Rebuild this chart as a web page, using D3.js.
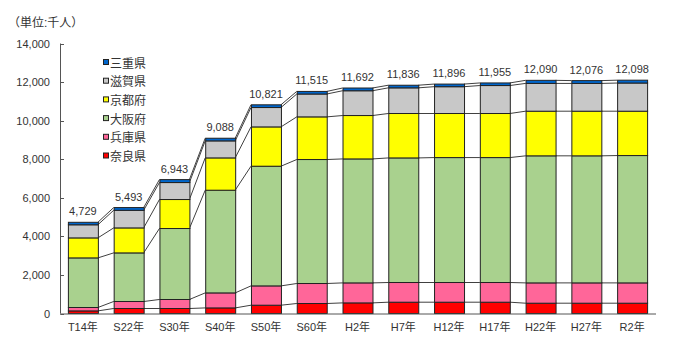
<!DOCTYPE html>
<html>
<head>
<meta charset="utf-8">
<script src="https://cdn.jsdelivr.net/npm/d3@7/dist/d3.min.js"></script>
<style>
html,body{margin:0;padding:0;background:#fff;}
svg{display:block;font-family:"Liberation Sans","Noto Sans CJK JP",sans-serif;}
</style>
</head>
<body>
<svg id="chart" width="680" height="343"></svg>
<script>
const categories = ["T14年","S22年","S30年","S40年","S50年","S60年","H2年","H7年","H12年","H17年","H22年","H27年","R2年"];
const nara  = [135, 259, 259, 290, 430, 518, 550, 586, 586, 586, 534, 534, 534];
const hyogo = [176, 363, 467, 778, 1001, 1037, 1037, 1021, 1021, 1021, 1053, 1053, 1053];
const osaka = [2572, 2520, 3681, 5325, 6206, 6429, 6428, 6460, 6478, 6478, 6588, 6588, 6603];
const kyoto = [1037, 1296, 1503, 1675, 2038, 2211, 2250, 2303, 2285, 2285, 2315, 2315, 2300];
const shiga = [680, 912, 880, 882, 1005, 1185, 1285, 1330, 1390, 1450, 1440, 1440, 1460];
const mie   = [129, 143, 153, 138, 141, 135, 142, 136, 136, 135, 160, 146, 148];
const totals = ["4,729","5,493","6,943","9,088","10,821","11,515","11,692","11,836","11,896","11,955","12,090","12,076","12,098"];
const yTicks = [0, 2000, 4000, 6000, 8000, 10000, 12000, 14000];
const seriesNames = ["奈良県","兵庫県","大阪府","京都府","滋賀県","三重県"];
const seriesData = [nara, hyogo, osaka, kyoto, shiga, mie];
const colors = ["#FF0000","#FF6699","#A9D18E","#FFFF00","#C8C8C8","#0066CC"];

const svg = d3.select("#chart");
const x = d3.scaleBand().domain(categories).range([60, 655]).paddingInner(0.345).paddingOuter(0.1725);
const y = d3.scaleLinear().domain([0, 14000]).range([313.5, 43.5]);

const rows = categories.map((c, i) => {
  const r = {cat: c};
  seriesNames.forEach((s, k) => r[s] = seriesData[k][i]);
  return r;
});
const stacked = d3.stack().keys(seriesNames)(rows);

// connector lines (series lines)
const gLines = svg.append("g");
stacked.forEach(layer => {
  for (let i = 0; i < categories.length - 1; i++) {
    gLines.append("line")
      .attr("x1", x(categories[i]) + x.bandwidth())
      .attr("x2", x(categories[i + 1]))
      .attr("y1", y(layer[i][1]))
      .attr("y2", y(layer[i + 1][1]))
      .attr("stroke", "#404040").attr("stroke-width", 1);
  }
});

// bars
stacked.forEach((layer, k) => {
  svg.append("g").selectAll("rect").data(layer).join("rect")
    .attr("x", (d, i) => x(categories[i]) + 0.5)
    .attr("width", x.bandwidth())
    .attr("y", d => y(d[1]))
    .attr("height", d => y(d[0]) - y(d[1]))
    .attr("fill", colors[k])
    .attr("stroke", "#222").attr("stroke-width", 1);
});

// axes
const axisColor = "#555";
svg.append("line").attr("x1", 60.5).attr("x2", 60.5).attr("y1", y(14000)).attr("y2", y(0)).attr("stroke", axisColor);
svg.append("line").attr("x1", 60).attr("x2", 656).attr("y1", y(0) + 0.5).attr("y2", y(0) + 0.5).attr("stroke", axisColor);
const gy = svg.append("g");
yTicks.forEach(t => {
  gy.append("line").attr("x1", 60.5).attr("x2", 64).attr("y1", Math.round(y(t)) + 0.5).attr("y2", Math.round(y(t)) + 0.5).attr("stroke", axisColor);
  gy.append("text").attr("x", 50).attr("y", y(t) + 4).attr("text-anchor", "end")
    .attr("font-size", 11).attr("fill", "#333").text(d3.format(",")(t));
});

// x labels
svg.append("g").selectAll("text").data(categories).join("text")
  .attr("x", d => x(d) + x.bandwidth() / 2)
  .attr("y", 331)
  .attr("text-anchor", "middle").attr("font-size", 11).attr("fill", "#333")
  .text(d => d);

// total labels
const lastLayer = stacked[stacked.length - 1];
svg.append("g").selectAll("text").data(totals).join("text")
  .attr("x", (d, i) => x(categories[i]) + x.bandwidth() / 2)
  .attr("y", (d, i) => y(lastLayer[i][1]) - 7)
  .attr("text-anchor", "middle").attr("font-size", 11).attr("fill", "#333")
  .text(d => d);

// unit
svg.append("text").attr("x", 8).attr("y", 27).attr("font-size", 12).attr("fill", "#333").text("（単位:千人）");

// legend
const legendOrder = [5, 4, 3, 2, 1, 0];
legendOrder.forEach((k, j) => {
  const ly = 63 + j * 18.7;
  svg.append("rect").attr("x", 103.5).attr("y", ly - 3.5).attr("width", 5).attr("height", 5)
    .attr("fill", colors[k]).attr("stroke", "#222").attr("stroke-width", 1);
  svg.append("text").attr("x", 110).attr("y", ly + 4.5).attr("font-size", 12).attr("fill", "#333").text(seriesNames[k]);
});
</script>
</body>
</html>
